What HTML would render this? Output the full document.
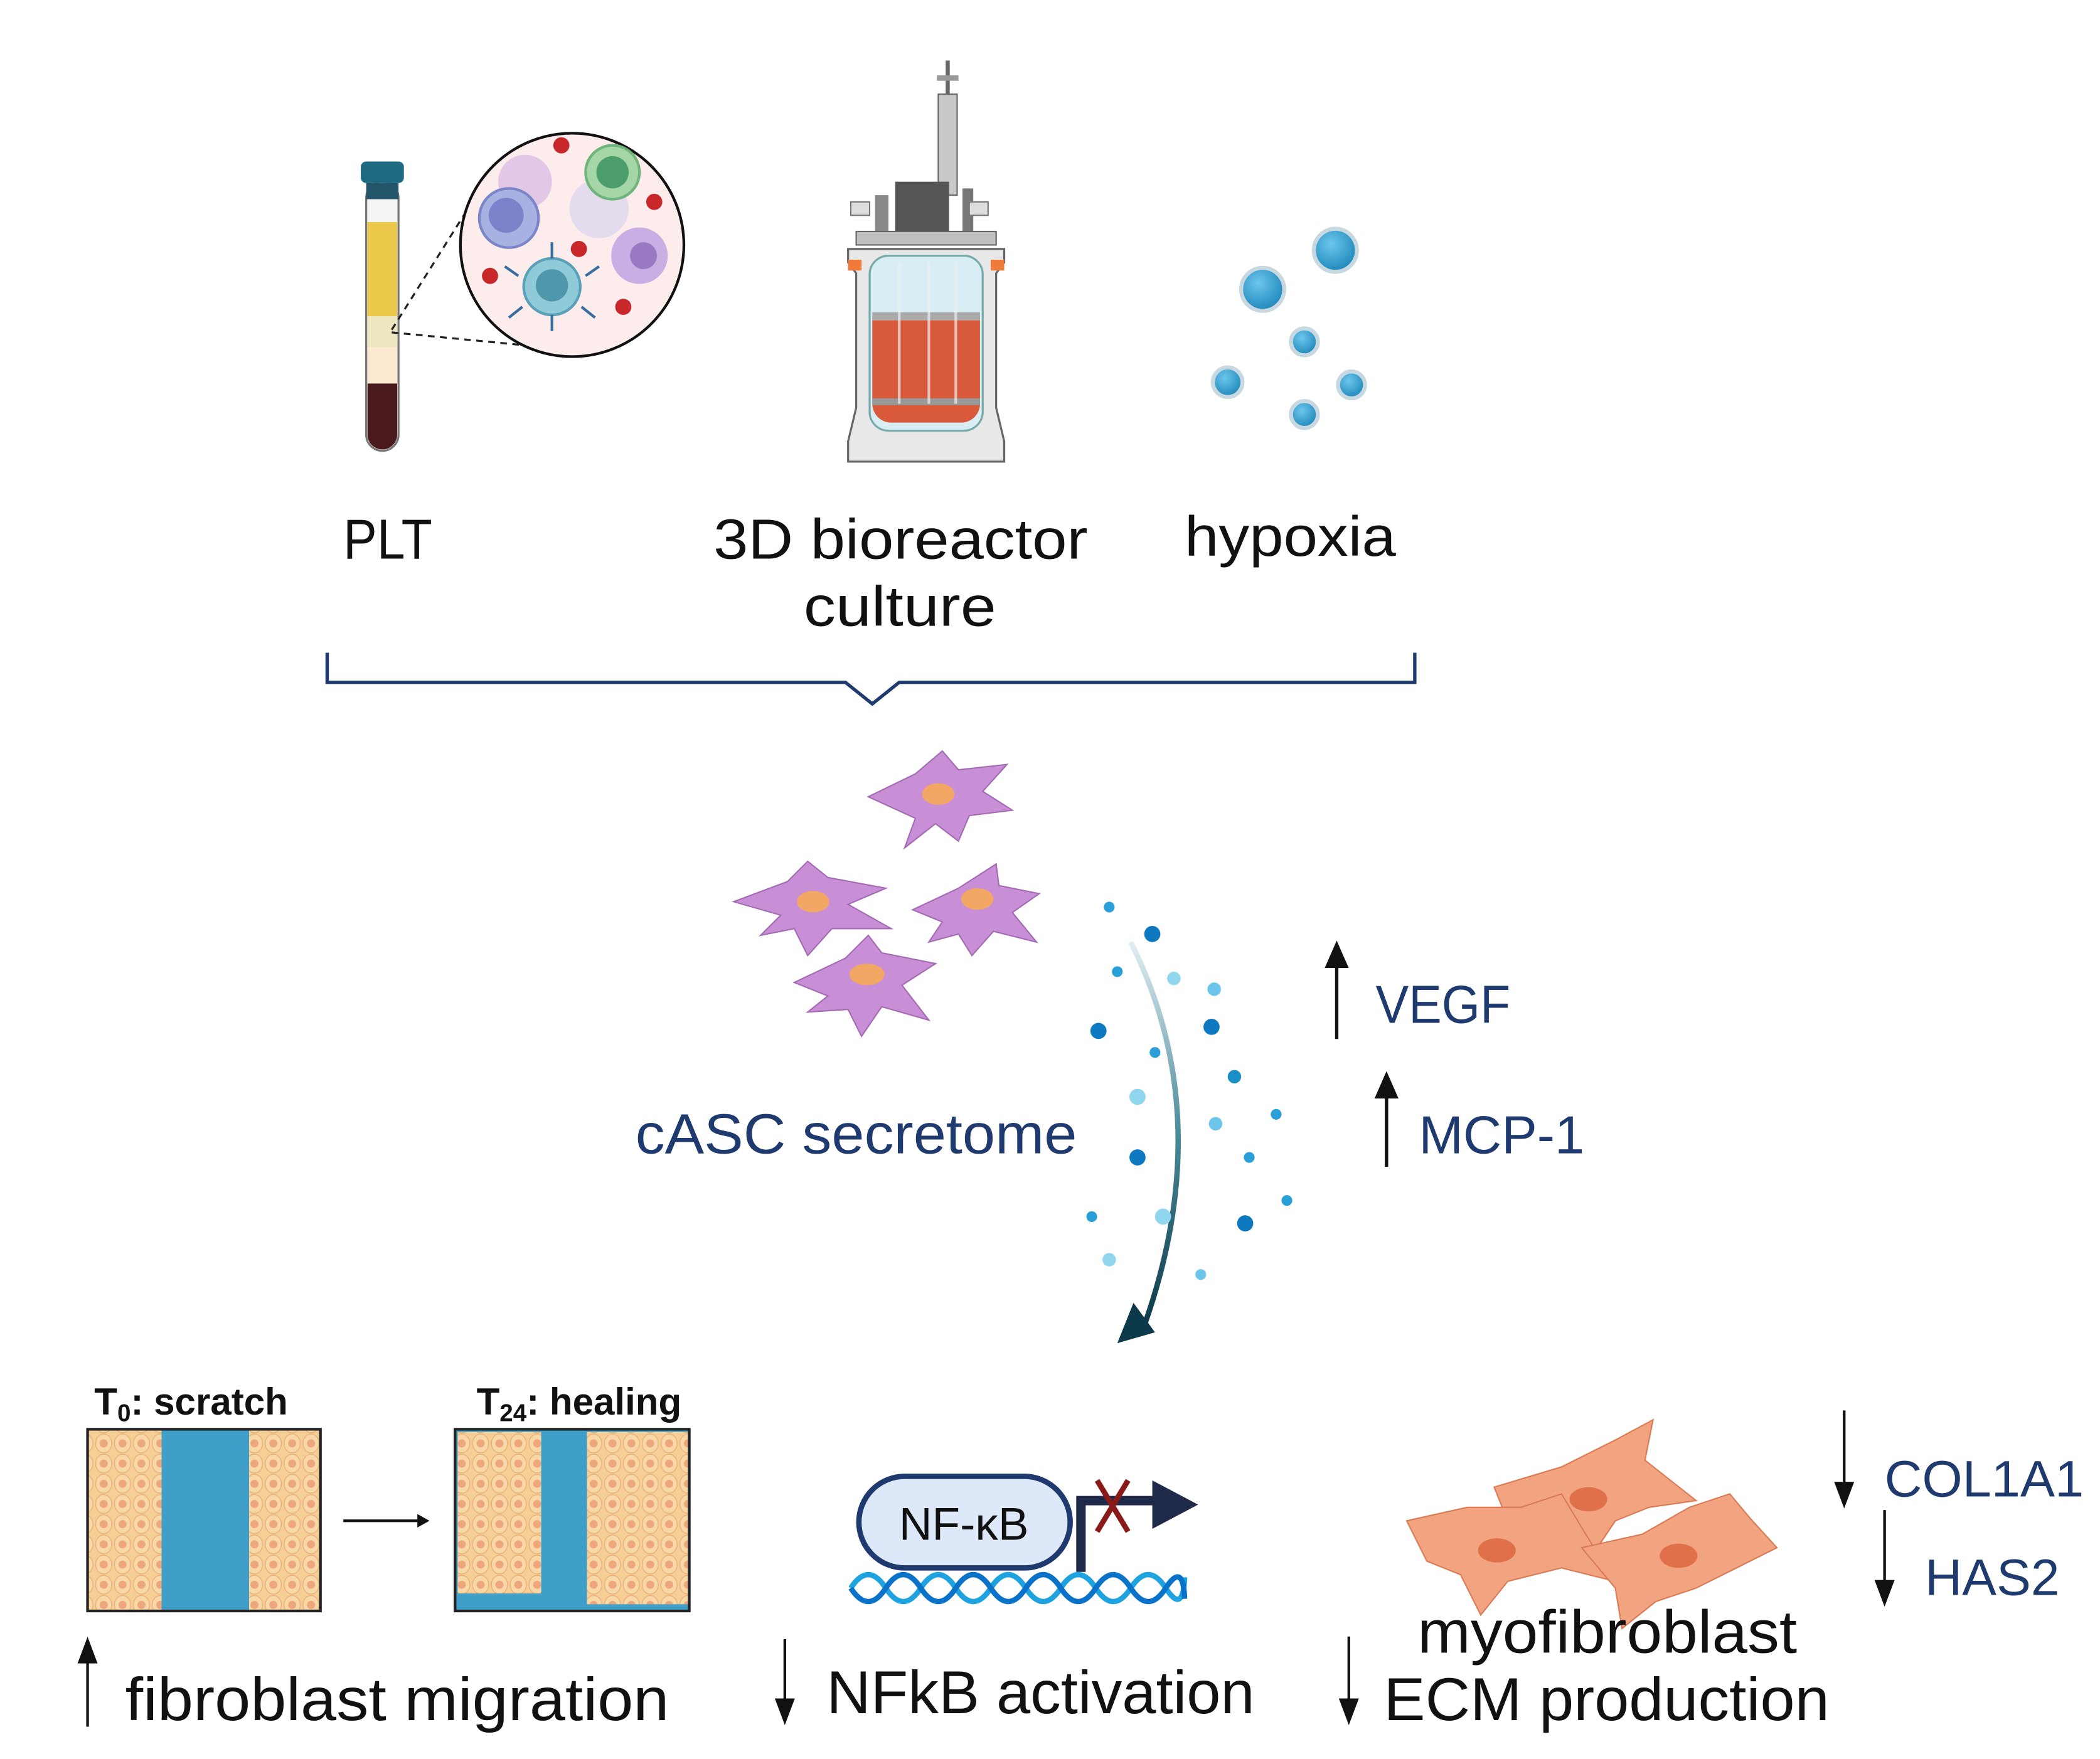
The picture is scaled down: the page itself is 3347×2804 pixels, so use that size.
<!DOCTYPE html>
<html><head><meta charset="utf-8"><style>
html,body{margin:0;padding:0;background:#fff;}
svg{display:block;}
text{font-family:"Liberation Sans",sans-serif;}
</style></head><body>
<svg width="3347" height="2804" viewBox="0 0 1560 1307" xmlns="http://www.w3.org/2000/svg">
<defs>
<pattern id="cells" width="14" height="15" patternUnits="userSpaceOnUse">
<rect width="14" height="15" fill="#f6cf96"/>
<ellipse cx="7" cy="7.5" rx="6" ry="7" fill="#f9d8a8" stroke="#e9b27a" stroke-width="0.7"/>
<circle cx="7" cy="7.5" r="3" fill="#eea77a"/>
</pattern>
<linearGradient id="ag" x1="0" y1="0" x2="0" y2="1">
<stop offset="0" stop-color="#e0eef2"/><stop offset="0.5" stop-color="#4a8a9a"/><stop offset="1" stop-color="#0d3a4a"/>
</linearGradient>
<radialGradient id="bub" cx="0.4" cy="0.35" r="0.7"><stop offset="0" stop-color="#6cc6ec"/><stop offset="1" stop-color="#1a84b8"/></radialGradient>
</defs>

<!-- tube -->
<rect x="272" y="135" width="24" height="200" rx="12" fill="#f4f4f4" stroke="#777" stroke-width="1.5"/>
<rect x="273" y="165" width="22" height="70" fill="#ecc94a"/>
<rect x="273" y="235" width="22" height="23" fill="#ede6be"/>
<rect x="273" y="258" width="22" height="27" fill="#fde8d2"/>
<path d="M273 285 h22 v38 a11 11 0 0 1 -22 0 z" fill="#4a1a1c"/>
<rect x="268" y="120" width="32" height="16" rx="4" fill="#1e6a80"/>
<rect x="272" y="136" width="24" height="12" fill="#22546a"/>
<!-- dashed -->
<line x1="291" y1="245" x2="352" y2="148" stroke="#222" stroke-width="1.5" stroke-dasharray="5,4"/>
<line x1="291" y1="247" x2="405" y2="258" stroke="#222" stroke-width="1.5" stroke-dasharray="5,4"/>
<!-- circle -->
<circle cx="425" cy="182" r="83" fill="#fcecec" stroke="#111" stroke-width="2"/>
<circle cx="390" cy="135" r="20" fill="#e2c8e6"/>
<circle cx="445" cy="155" r="22" fill="#e4dcec"/>
<circle cx="455" cy="128" r="20" fill="#a5d6a8" stroke="#6fb47a" stroke-width="2"/><circle cx="455" cy="128" r="12" fill="#4b9e6a"/>
<circle cx="378" cy="162" r="22" fill="#a7b2e2" stroke="#7b86c8" stroke-width="2"/><circle cx="376" cy="160" r="13" fill="#7d82ca"/>
<circle cx="475" cy="190" r="21" fill="#c8aee2"/><circle cx="478" cy="190" r="10" fill="#9a78c2"/>
<circle cx="410" cy="213" r="21" fill="#8ecad8" stroke="#5aa0b8" stroke-width="2"/><circle cx="410" cy="212" r="12" fill="#4f98ac"/>
<g fill="#c8282a"><circle cx="417" cy="108" r="6"/><circle cx="486" cy="150" r="6"/><circle cx="430" cy="185" r="6"/><circle cx="364" cy="205" r="6"/><circle cx="463" cy="228" r="6"/></g>
<g stroke="#3a6ea0" stroke-width="2"><line x1="385" y1="205" x2="375" y2="198"/><line x1="435" y1="205" x2="445" y2="198"/><line x1="410" y1="192" x2="410" y2="180"/><line x1="388" y1="228" x2="378" y2="236"/><line x1="432" y1="228" x2="442" y2="236"/><line x1="410" y1="234" x2="410" y2="246"/></g>

<!-- bioreactor -->
<g>
<rect x="697" y="70" width="14" height="75" fill="#c8c8c8" stroke="#666"/>
<line x1="704" y1="45" x2="704" y2="70" stroke="#666" stroke-width="3"/>
<rect x="696" y="56" width="16" height="4" fill="#999"/>
<rect x="665" y="135" width="40" height="45" fill="#555"/>
<rect x="650" y="145" width="10" height="30" fill="#888"/>
<rect x="715" y="140" width="8" height="35" fill="#777"/>
<rect x="632" y="150" width="14" height="10" fill="#ddd" stroke="#777"/>
<rect x="720" y="150" width="14" height="10" fill="#ddd" stroke="#777"/>
<rect x="636" y="172" width="104" height="10" fill="#c0c0c0" stroke="#666"/>
<path d="M630 185 h116 v10 l-6 8 v100 l6 25 v15 h-116 v-15 l6 -25 v-100 l-6 -8 z" fill="#e8e8e8" stroke="#666" stroke-width="1.5"/>
<rect x="630" y="193" width="10" height="8" fill="#f07a3a"/><rect x="736" y="193" width="10" height="8" fill="#f07a3a"/>
<rect x="646" y="190" width="84" height="130" rx="14" fill="#d8eef4" stroke="#7aa" stroke-width="1.5"/>
<path d="M648 238 h80 v62 a14 14 0 0 1 -14 14 h-52 a14 14 0 0 1 -14 -14 z" fill="#d85a3a"/>
<rect x="648" y="232" width="80" height="6" fill="#aaa"/>
<rect x="648" y="296" width="80" height="5" fill="#999"/>
<g stroke="#eee" stroke-width="2" opacity="0.7"><line x1="668" y1="195" x2="668" y2="300"/><line x1="690" y1="195" x2="690" y2="300"/><line x1="710" y1="195" x2="710" y2="300"/></g>
</g>

<!-- bubbles -->
<g stroke="#c8d8e0" stroke-width="3" fill="url(#bub)">
<circle cx="938" cy="215" r="16"/><circle cx="992" cy="186" r="16"/><circle cx="969" cy="254" r="10"/><circle cx="912" cy="284" r="11"/><circle cx="1004" cy="286" r="10"/><circle cx="969" cy="308" r="10"/>
</g>

<!-- labels top -->
<g font-size="42" fill="#111">
<text x="255" y="415" textLength="66" lengthAdjust="spacingAndGlyphs">PLT</text>
<text x="530" y="415" textLength="278" lengthAdjust="spacingAndGlyphs">3D bioreactor</text>
<text x="597" y="465" textLength="143" lengthAdjust="spacingAndGlyphs">culture</text>
<text x="880" y="413" textLength="157" lengthAdjust="spacingAndGlyphs">hypoxia</text>
</g>
<!-- bracket -->
<path d="M243 485 V507 H628 L648 523 L668 507 H1051 V485" fill="none" stroke="#1f3a6e" stroke-width="2.5"/>

<!-- purple cells -->
<g fill="#c98fd6" stroke="#a56ab4" stroke-width="1">
<path d="M645 592 L680 575 L700 558 L712 572 L748 568 L730 588 L752 602 L720 606 L712 625 L695 612 L672 630 L680 608 Z"/>
<path d="M545 670 L585 655 L600 640 L615 652 L658 660 L630 672 L662 690 L618 690 L600 710 L590 690 L565 695 L580 680 Z"/>
<path d="M678 676 L712 660 L740 642 L742 658 L772 664 L752 678 L770 700 L738 692 L722 710 L712 694 L690 700 L700 685 Z"/>
<path d="M590 730 L628 712 L645 695 L655 708 L695 716 L670 732 L690 758 L655 748 L640 770 L630 750 L600 752 L615 740 Z"/>
</g>
<g fill="#f2a765"><ellipse cx="697" cy="590" rx="12" ry="8"/><ellipse cx="604" cy="670" rx="12" ry="8"/><ellipse cx="726" cy="668" rx="12" ry="8"/><ellipse cx="644" cy="724" rx="13" ry="8"/></g>

<text x="472" y="857" font-size="42" fill="#1f3a6e" textLength="328" lengthAdjust="spacingAndGlyphs">cASC secretome</text>

<!-- curved arrow -->
<path d="M840 700 Q905 830 850 985" fill="none" stroke="url(#ag)" stroke-width="4"/>
<path d="M830 998 L858 990 L842 968 Z" fill="#0d3a4a"/>
<!-- dots -->
<g>
<circle cx="824" cy="674" r="4" fill="#2a9fd8"/><circle cx="856" cy="694" r="6" fill="#0e78c0"/>
<circle cx="830" cy="722" r="4" fill="#2a9fd8"/><circle cx="872" cy="727" r="5" fill="#8fd6ee"/>
<circle cx="902" cy="735" r="5" fill="#6cc6ec"/><circle cx="816" cy="766" r="6" fill="#0e78c0"/>
<circle cx="858" cy="782" r="4" fill="#2a9fd8"/><circle cx="900" cy="763" r="6" fill="#0e78c0"/>
<circle cx="917" cy="800" r="5" fill="#1a8fc8"/><circle cx="845" cy="815" r="6" fill="#8fd6ee"/>
<circle cx="903" cy="835" r="5" fill="#6cc6ec"/><circle cx="948" cy="828" r="4" fill="#2a9fd8"/>
<circle cx="845" cy="860" r="6" fill="#0e78c0"/><circle cx="928" cy="860" r="4" fill="#2a9fd8"/>
<circle cx="956" cy="892" r="4" fill="#2a9fd8"/><circle cx="811" cy="904" r="4" fill="#2a9fd8"/>
<circle cx="864" cy="904" r="6" fill="#8fd6ee"/><circle cx="925" cy="909" r="6" fill="#0e78c0"/>
<circle cx="824" cy="936" r="5" fill="#8fd6ee"/><circle cx="892" cy="947" r="4" fill="#6cc6ec"/>
</g>

<!-- VEGF / MCP-1 -->
<g stroke="#111" stroke-width="2.5" fill="#111">
<line x1="993" y1="772" x2="993" y2="712"/><path d="M986 718 L993 702 L1000 718 Z"/>
<line x1="1030" y1="867" x2="1030" y2="810"/><path d="M1023 815 L1030 799 L1037 815 Z"/>
</g>
<text x="1022" y="760" font-size="40" fill="#1f3a6e" textLength="100" lengthAdjust="spacingAndGlyphs">VEGF</text>
<text x="1054" y="857" font-size="40" fill="#1f3a6e" textLength="123" lengthAdjust="spacingAndGlyphs">MCP-1</text>

<!-- scratch boxes -->
<text x="70" y="1051" font-size="28" font-weight="bold" fill="#111">T<tspan font-size="18" dy="5">0</tspan><tspan dy="-5">: scratch</tspan></text>
<text x="354" y="1051" font-size="28" font-weight="bold" fill="#111">T<tspan font-size="18" dy="5">24</tspan><tspan dy="-5">: healing</tspan></text>
<rect x="65" y="1062" width="173" height="135" fill="#3f9fc8"/>
<rect x="65" y="1062" width="55" height="135" fill="url(#cells)"/>
<rect x="185" y="1062" width="53" height="135" fill="url(#cells)"/>
<rect x="65" y="1062" width="173" height="135" fill="none" stroke="#222" stroke-width="2"/>
<rect x="338" y="1062" width="174" height="135" fill="#3f9fc8"/>
<rect x="340" y="1064" width="62" height="120" fill="url(#cells)"/>
<rect x="436" y="1064" width="75" height="128" fill="url(#cells)"/>
<rect x="338" y="1062" width="174" height="135" fill="none" stroke="#222" stroke-width="2"/>
<line x1="255" y1="1130" x2="312" y2="1130" stroke="#111" stroke-width="2"/><path d="M310 1125 L319 1130 L310 1135 Z" fill="#111"/>

<!-- NF-kB -->
<g fill="none" stroke-width="4">
<path d="M632 1180 Q645 1160 658 1180 T684 1180 T710 1180 T736 1180 T762 1180 T788 1180 T814 1180 T840 1180 T866 1180 T880 1172" stroke="#1fa3e0"/>
<path d="M632 1180 Q645 1200 658 1180 T684 1180 T710 1180 T736 1180 T762 1180 T788 1180 T814 1180 T840 1180 T866 1180 T880 1188" stroke="#0a72c8"/>
</g>
<rect x="638" y="1097" width="157" height="68" rx="34" fill="#dde9f8" stroke="#1f3a6e" stroke-width="4"/>
<text x="716" y="1144" font-size="34" fill="#111" text-anchor="middle">NF-κB</text>
<path d="M803 1168 V1115 H860" fill="none" stroke="#1f2a4a" stroke-width="7"/>
<path d="M856 1100 L890 1118 L856 1136 Z" fill="#1f2a4a"/>
<g stroke="#8a1a1a" stroke-width="4"><line x1="815" y1="1100" x2="838" y2="1138"/><line x1="838" y1="1100" x2="815" y2="1138"/></g>

<!-- myofibroblasts -->
<g fill="#f2a07a" stroke="#d9744c" stroke-width="1" opacity="0.95">
<path d="M1110 1105 L1160 1090 L1200 1070 L1228 1055 L1222 1085 L1260 1115 L1225 1120 L1200 1130 L1180 1160 L1160 1130 L1120 1130 Z"/>
<path d="M1045 1130 L1090 1120 L1130 1120 L1160 1110 L1178 1140 L1200 1175 L1160 1165 L1120 1175 L1100 1200 L1085 1170 L1060 1160 Z"/>
<path d="M1175 1150 L1220 1140 L1255 1120 L1285 1110 L1300 1128 L1320 1150 L1290 1165 L1260 1180 L1230 1190 L1205 1210 L1200 1180 Z"/>
</g>
<g fill="#e0704a"><ellipse cx="1180" cy="1114" rx="14" ry="9"/><ellipse cx="1112" cy="1152" rx="14" ry="9"/><ellipse cx="1247" cy="1156" rx="14" ry="9"/></g>

<g stroke="#111" stroke-width="2" fill="#111">
<line x1="1370" y1="1048" x2="1370" y2="1110"/><path d="M1364 1102 L1370 1118 L1376 1102 Z"/>
<line x1="1400" y1="1122" x2="1400" y2="1183"/><path d="M1394 1175 L1400 1191 L1406 1175 Z"/>
<line x1="65" y1="1283" x2="65" y2="1228"/><path d="M59 1235 L65 1219 L71 1235 Z"/>
<line x1="583" y1="1218" x2="583" y2="1270"/><path d="M577 1263 L583 1279 L589 1263 Z"/>
<line x1="1002" y1="1216" x2="1002" y2="1270"/><path d="M996 1263 L1002 1279 L1008 1263 Z"/>
</g>
<text x="1400" y="1112" font-size="38" fill="#1f3a6e" textLength="148" lengthAdjust="spacingAndGlyphs">COL1A1</text>
<text x="1430" y="1185" font-size="38" fill="#1f3a6e" textLength="100" lengthAdjust="spacingAndGlyphs">HAS2</text>

<g font-size="45" fill="#111">
<text x="1053" y="1228" textLength="282" lengthAdjust="spacingAndGlyphs">myofibroblast</text>
<text x="1028" y="1278" textLength="331" lengthAdjust="spacingAndGlyphs">ECM production</text>
<text x="93" y="1278" textLength="404" lengthAdjust="spacingAndGlyphs">fibroblast migration</text>
<text x="614" y="1273" textLength="318" lengthAdjust="spacingAndGlyphs">NFkB activation</text>
</g>
</svg>
</body></html>
